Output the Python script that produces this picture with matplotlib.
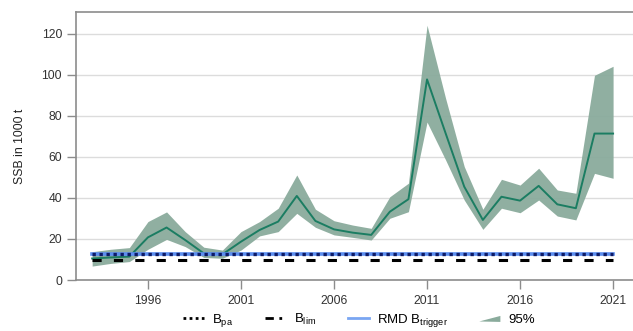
import numpy as np
import matplotlib
matplotlib.use('Agg')
import matplotlib.pyplot as plt
from matplotlib.lines import Line2D
from matplotlib.patches import Patch, Polygon
from matplotlib.legend_handler import HandlerPatch

plt.rcParams['font.family'] = ['Liberation Sans', 'DejaVu Sans']

# SSB estimates (1000 t) with 95% interval
years = list(range(1993, 2022))
ssb = [10.5, 11.0, 11.4, 20.8, 25.6, 19.5, 13.0, 12.5, 18.7, 24.4,
       28.5, 41.0, 28.8, 24.7, 23.1, 22.0, 33.3, 39.4, 97.8, 71.5,
       45.5, 29.3, 40.6, 38.7, 45.9, 36.9, 35.0, 71.4, 71.4]
upper = [13.8, 15.0, 15.8, 28.5, 33.2, 23.6, 16.0, 14.6, 23.6, 28.5,
         35.0, 51.2, 34.5, 28.9, 26.8, 25.2, 40.6, 47.2, 124.2, 88.5,
         55.3, 34.5, 49.1, 46.3, 54.5, 43.9, 42.3, 99.8, 104.2]
lower = [6.8, 8.1, 9.0, 15.0, 19.8, 16.3, 11.0, 10.6, 14.6, 21.5,
         23.6, 32.5, 25.7, 22.0, 20.8, 19.5, 30.1, 33.3, 77.0, 58.5,
         39.0, 24.7, 35.0, 32.8, 39.0, 31.2, 29.3, 52.0, 49.6]

b_pa = 12.9
b_lim = 9.6
b_trigger = 12.9

xticks = [1996, 2001, 2006, 2011, 2016, 2021]
yticks = [0, 20, 40, 60, 80, 100, 120]

line_col = '#1b7d62'
band_col = '#8aab9c'
grey = '#8c8c8c'


class WedgeHandler(HandlerPatch):
    # band-like legend key, widening to the right
    def create_artists(self, legend, orig_handle, xdescent, ydescent,
                       width, height, fontsize, trans):
        x0, y0 = -xdescent, -ydescent
        pts = [(x0, y0 + height * 0.15), (x0 + width, y0 + height * 0.75),
               (x0 + width, y0 + height * 0.1)]
        p = Polygon(pts, closed=True, facecolor=orig_handle.get_facecolor(),
                    edgecolor='none', transform=trans)
        return [p]


fig = plt.figure(figsize=(6.33, 3.31), dpi=100)
ax = fig.add_axes([0.12, 0.154, 0.88, 0.81])

ax.fill_between(years, lower, upper, color=band_col, alpha=0.95, lw=0, zorder=2)
ax.plot(years, ssb, color=line_col, lw=1.4, zorder=3)

ax.plot([years[0], years[-1]], [b_trigger] * 2, color='#5b8def', lw=2.6, zorder=4)
ax.plot([years[0], years[-1]], [b_pa] * 2, color='#0d1a66', lw=2.4,
        linestyle=(0, (1, 1.1)), zorder=5)
ax.plot([years[0], years[-1]], [b_lim] * 2, color='black', lw=2.2,
        linestyle=(0, (3, 4)), zorder=5)

ax.set_xlim(1992.13, 2022.07)
ax.set_ylim(0, 130.7)
ax.set_xticks(xticks)
ax.set_yticks(yticks)
ax.grid(axis='y', color='#dcdcdc', lw=1.0, zorder=0)
ax.set_axisbelow(True)

for s in ['left', 'top', 'bottom']:
    ax.spines[s].set_color(grey)
    ax.spines[s].set_linewidth(1.2)
ax.spines['right'].set_visible(False)
ax.tick_params(axis='both', colors=grey, length=6.5, width=1.0,
               labelcolor='#333333', labelsize=8.8)
ax.tick_params(axis='x', pad=4)

ax.set_ylabel('SSB in 1000 t', fontsize=8.8, color='#222222', labelpad=11)

handles = [
    Line2D([], [], color='black', lw=2, linestyle=(0, (1, 1.2))),
    Line2D([], [], color='black', lw=2, linestyle=(0, (3, 2, 1, 2))),
    Line2D([], [], color='#7aa6f2', lw=2),
    Patch(facecolor=band_col, edgecolor='none'),
]
labels = [r'B$_{\mathregular{pa}}$', r'B$_{\mathregular{lim}}$',
          r'RMD B$_{\mathregular{trigger}}$', '95%']
fig.legend(handles, labels, loc='center', bbox_to_anchor=(0.567, 0.032),
           ncol=4, frameon=False, fontsize=9.5, handlelength=1.6,
           handletextpad=0.6, columnspacing=2.4,
           handler_map={Patch: WedgeHandler()})

fig.savefig('out.png', dpi=100)
